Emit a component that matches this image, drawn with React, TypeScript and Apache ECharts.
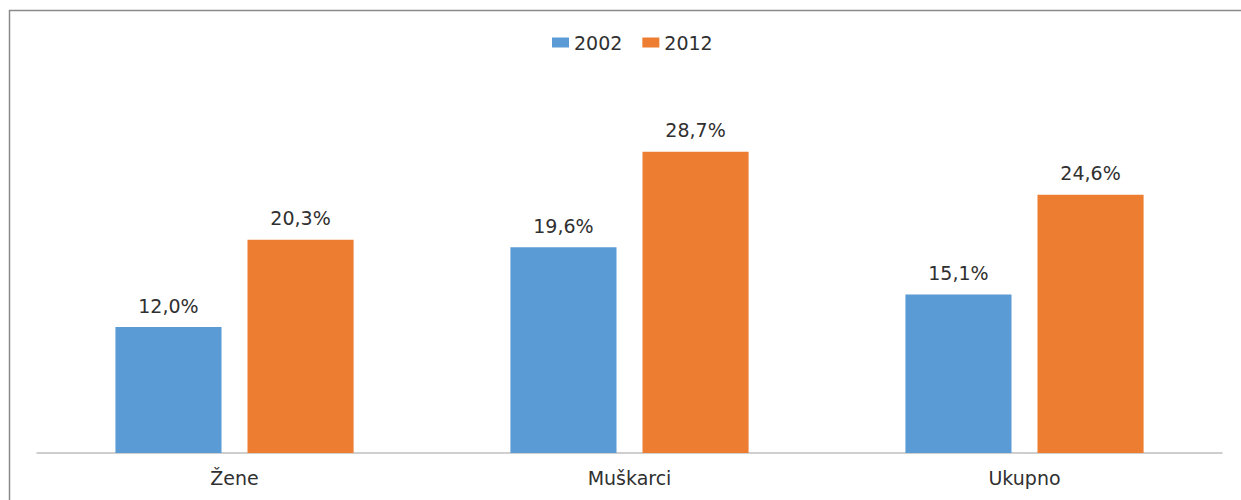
import React, { useEffect, useRef } from "react";
import * as echarts from "echarts";

const categories = ["Žene", "Muškarci", "Ukupno"];
const series2002 = [12.0, 19.6, 15.1];
const series2012 = [20.3, 28.7, 24.6];
const seriesNames = ["2002", "2012"];

const FONT = "'DejaVu Sans', 'Noto Sans', sans-serif";
const TEXT = "#303030";

export default function App() {
  const ref = useRef<HTMLDivElement>(null);
  useEffect(() => {
    if (!ref.current) return;
    const chart = echarts.init(ref.current, null, { renderer: "svg" });
    const fmt = (p: any) => p.value.toFixed(1).replace(".", ",") + "%";
    const label = {
      show: true,
      position: "top",
      distance: 12,
      formatter: fmt,
      fontFamily: FONT,
      fontSize: 19,
      color: TEXT,
    };
    chart.setOption({
      animation: false,
      backgroundColor: "#ffffff",
      graphic: [
        {
          type: "rect",
          shape: { x: 9.5, y: 10.5, width: 1300, height: 600 },
          style: { fill: "none", stroke: "#8a8a8a", lineWidth: 1.5 },
          silent: true,
        },
      ],
      legend: {
        top: 28,
        left: 547,
        itemWidth: 17,
        itemHeight: 10,
        itemGap: 20,
        icon: "rect",
        textStyle: { fontFamily: FONT, fontSize: 19, color: TEXT },
        data: seriesNames,
      },
      grid: { left: 37, right: 19, top: 85.5, bottom: 47 },
      xAxis: {
        type: "category",
        data: categories,
        axisLine: { lineStyle: { color: "#bfbfbf", width: 1.5 } },
        axisTick: { show: false },
        axisLabel: { fontFamily: FONT, fontSize: 19, color: TEXT, margin: 15 },
      },
      yAxis: {
        type: "value",
        min: 0,
        max: 35,
        show: false,
        splitLine: { show: false },
      },
      series: [
        {
          name: seriesNames[0],
          type: "bar",
          data: series2002,
          itemStyle: { color: "#5B9BD5" },
          barGap: "24.5%",
          barCategoryGap: "39.7%",
          label,
        },
        {
          name: seriesNames[1],
          type: "bar",
          data: series2012,
          itemStyle: { color: "#ED7D31" },
          barGap: "24.5%",
          barCategoryGap: "39.7%",
          label,
        },
      ],
    });
    return () => chart.dispose();
  }, []);
  return (
    <div
      ref={ref}
      style={{ position: "absolute", left: 0, top: 0, width: 1241, height: 500 }}
    />
  );
}
